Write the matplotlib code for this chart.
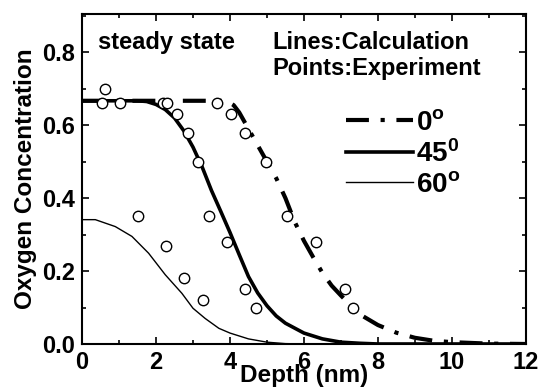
import matplotlib
matplotlib.use("Agg")
import matplotlib.pyplot as plt
from matplotlib.ticker import MultipleLocator

plt.rcParams['font.family'] = ['Liberation Sans', 'DejaVu Sans']
plt.rcParams['font.weight'] = 'bold'
plt.rcParams['mathtext.fontset'] = 'custom'
plt.rcParams['mathtext.rm'] = 'Liberation Sans:bold'
plt.rcParams['mathtext.default'] = 'rm'

# Calculated curves
depth_0 = [0, 3.5, 3.9, 4.1, 4.25, 4.5, 4.75, 5.0, 5.25, 5.5, 5.75, 6.0, 6.25, 6.5, 6.75, 7.0,
           7.5, 8.0, 8.5, 9.0, 9.5, 10, 11, 12]
conc_0 = [0.667, 0.667, 0.667, 0.655, 0.635, 0.59, 0.545, 0.50, 0.455, 0.40, 0.335, 0.283, 0.238,
          0.195, 0.16, 0.133, 0.082, 0.052, 0.031, 0.017, 0.009, 0.005, 0.001, 0.0]

depth_45 = [0, 1.0, 1.5, 1.75, 2.0, 2.25, 2.5, 2.75, 3.0, 3.25, 3.5, 3.75, 4.0, 4.25, 4.5,
            4.75, 5.0, 5.25, 5.5, 6.0, 6.5, 7.0, 7.5, 8.0, 12]
conc_45 = [0.667, 0.667, 0.667, 0.665, 0.657, 0.643, 0.62, 0.585, 0.54, 0.485, 0.421, 0.364,
           0.306, 0.245, 0.185, 0.14, 0.105, 0.077, 0.057, 0.03, 0.014, 0.005, 0.002, 0.0, 0.0]

depth_60 = [0, 0.36, 0.9, 1.35, 1.8, 2.25, 2.7, 3.0, 3.33, 3.7, 4.0, 4.5, 5.0, 5.5, 6.0, 12]
conc_60 = [0.341, 0.341, 0.322, 0.295, 0.249, 0.19, 0.139, 0.098, 0.07, 0.043, 0.03, 0.014,
           0.005, 0.001, 0.0, 0.0]

# Experimental points
exp_x_0 = [3.64, 4.02, 4.41, 4.97, 5.55, 6.32, 7.11, 7.33]
exp_y_0 = [0.66, 0.63, 0.58, 0.50, 0.35, 0.28, 0.15, 0.10]
exp_x_45 = [0.53, 0.62, 1.03, 2.20, 2.31, 2.56, 2.86, 3.14, 3.44, 3.91, 4.41, 4.70]
exp_y_45 = [0.66, 0.70, 0.66, 0.66, 0.66, 0.63, 0.58, 0.50, 0.35, 0.28, 0.15, 0.10]
exp_x_60 = [1.52, 2.27, 2.77, 3.28]
exp_y_60 = [0.35, 0.27, 0.18, 0.12]

labels = [r'0$^{o}$', r'45$^{0}$', r'60$^{o}$']

fig = plt.figure(figsize=(5.41, 3.89), dpi=100)
ax = fig.add_axes([0.1516, 0.1157, 0.8204, 0.8483])

l0, = ax.plot(depth_0, conc_0, color='black', lw=3,
              linestyle=(0, (5.5, 2.8, 1.0, 2.8)), dash_capstyle='butt', zorder=2)
l45, = ax.plot(depth_45, conc_45, color='black', lw=2.6, zorder=2)
l60, = ax.plot(depth_60, conc_60, color='black', lw=1.0, zorder=2)

for xs, ys in [(exp_x_0, exp_y_0), (exp_x_45, exp_y_45), (exp_x_60, exp_y_60)]:
    ax.plot(xs, ys, linestyle='none', marker='o', markersize=7.5,
            markerfacecolor='white', markeredgecolor='black', markeredgewidth=1.0, zorder=3)

ax.set_xlim(0, 12)
ax.set_ylim(0, 0.905)
ax.xaxis.set_major_locator(MultipleLocator(2))
ax.xaxis.set_minor_locator(MultipleLocator(1))
ax.yaxis.set_major_locator(MultipleLocator(0.2))
ax.yaxis.set_minor_locator(MultipleLocator(0.1))
ax.yaxis.set_major_formatter(plt.FuncFormatter(lambda v, p: f'{v:.1f}'))
ax.tick_params(which='both', direction='in', top=True, right=True, width=1.2)
ax.tick_params(which='major', length=5, labelsize=17)
ax.tick_params(axis='x', which='major', pad=5)
ax.tick_params(axis='y', which='major', pad=5)
ax.tick_params(which='minor', length=3)
for lab in ax.get_xticklabels() + ax.get_yticklabels():
    lab.set_fontweight('bold')
for s in ax.spines.values():
    s.set_linewidth(1.5)

ax.set_xlabel('Depth (nm)', fontsize=17.5, fontweight='bold', labelpad=-7)
ax.set_ylabel('Oxygen Concentration', fontsize=17.5, fontweight='bold', labelpad=4)

ax.text(0.037, 0.95, 'steady state', transform=ax.transAxes, fontsize=17,
        fontweight='bold', va='top', ha='left')
ax.text(0.43, 0.95, 'Lines:Calculation\nPoints:Experiment', transform=ax.transAxes,
        fontsize=17, fontweight='bold', va='top', ha='left', linespacing=1.22)

leg = ax.legend([l0, l45, l60], labels, loc='upper left', bbox_to_anchor=(0.595, 0.71),
                frameon=False, fontsize=20, handlelength=2.4, handletextpad=0.1,
                labelspacing=0.15, borderaxespad=0, borderpad=0)
for t in leg.get_texts():
    t.set_fontweight('bold')

fig.savefig('out.png', dpi=100)
